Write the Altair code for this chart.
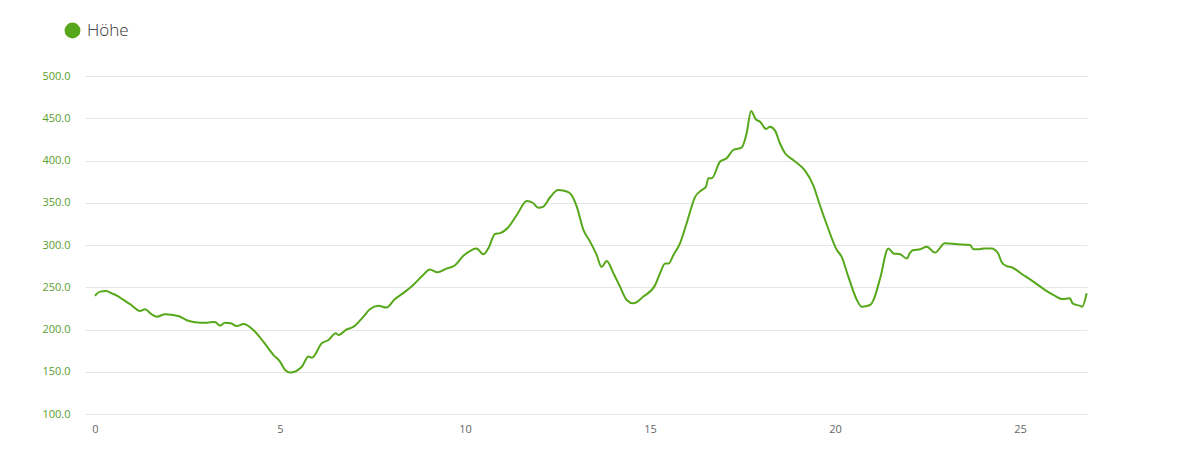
import altair as alt
import pandas as pd

km = [0.0, 0.14, 0.3, 0.45, 0.59, 0.77, 0.95, 1.22, 1.35, 1.53, 1.67, 1.89, 2.25, 2.48, 2.66,
      3.02, 3.24, 3.38, 3.51, 3.69, 3.83, 4.01, 4.28, 4.55, 4.82, 5.0, 5.14, 5.27, 5.59, 5.77,
      5.86, 6.13, 6.31, 6.51, 6.58, 6.8, 6.98, 7.25, 7.43, 7.66, 7.88, 8.1, 8.33, 8.6, 8.87,
      9.05, 9.25, 9.5, 9.73, 9.95, 10.18, 10.31, 10.5, 10.63, 10.81, 10.95, 11.17, 11.4, 11.67,
      11.83, 11.98, 12.12, 12.3, 12.52, 12.77, 12.88, 13.02, 13.2, 13.38, 13.56, 13.69, 13.83,
      14.01, 14.19, 14.37, 14.55, 14.82, 15.14, 15.27, 15.41, 15.5, 15.63, 15.81, 15.99, 16.22,
      16.4, 16.51, 16.58, 16.67, 16.89, 17.07, 17.25, 17.48, 17.61, 17.73, 17.86, 17.97, 18.14,
      18.24, 18.38, 18.51, 18.65, 18.87, 19.19, 19.41, 19.59, 19.78, 20.05, 20.18, 20.36, 20.59,
      20.72, 20.95, 21.04, 21.22, 21.44, 21.58, 21.76, 21.94, 22.03, 22.12, 22.3, 22.48, 22.7,
      22.97, 23.29, 23.65, 23.74, 23.92, 24.01, 24.23, 24.41, 24.5, 24.64, 24.77, 25.09, 25.36,
      25.68, 25.9, 26.13, 26.35, 26.42, 26.62, 26.68, 26.8]
hoehe = [240, 244.8, 245.5, 242.8, 240, 235, 230, 222, 224, 218, 215.2, 218, 216, 211, 209,
         208, 209, 204.6, 208, 207, 204, 206.5, 199.4, 185.6, 170, 162, 152, 149, 156, 168,
         166.6, 183.6, 187.6, 195.5, 193.5, 200, 203, 215, 224, 228, 226, 235.8, 243, 252.7, 264.5,
         271, 267.7, 272, 276, 287, 294, 296, 289, 296, 313, 314, 321, 335.5, 352,
         350, 344, 345.5, 356.5, 365, 363, 359, 345.5, 318, 304, 288, 274, 281,
         266.5, 250.7, 235, 231, 239, 252.7, 266.5, 278, 278, 288, 302, 325.7, 357,
         365, 369, 379, 379, 398.6, 402.6, 412.4, 415.6, 432, 458.6, 448.7, 446, 437.3,
         440, 435.3, 420.4, 408.5, 400.6, 388, 371, 347.3, 323.7, 294, 286, 262.5, 235,
         227, 229, 235, 260.6, 296, 290, 289, 284, 291, 294, 295, 298, 291,
         302, 301, 300, 295, 295, 296, 296, 290, 280, 275, 273.7, 264.5, 256.6,
         246.7, 241, 236, 237, 231, 228, 227, 243]
series = ["Höhe"] * len(km)

y_ticks = [100, 150, 200, 250, 300, 350, 400, 450, 500]
x_ticks = [0, 5, 10, 15, 20, 25]

GREEN = "#56a81a"
LABEL_GREEN = "#5a9e2a"

df = pd.DataFrame({"km": km, "hoehe": hoehe, "serie": series})

chart = alt.Chart(df).mark_line(strokeWidth=2, interpolate="monotone").encode(
    x=alt.X("km:Q", scale=alt.Scale(domain=[-0.27, 26.81], nice=False, zero=False),
            axis=alt.Axis(values=x_ticks, title=None, grid=False, domain=False, ticks=False,
                          labelColor="#666666", labelFontSize=11, labelFont="Open Sans",
                          labelPadding=9, format="d")),
    y=alt.Y("hoehe:Q", scale=alt.Scale(domain=[100, 500], nice=False, zero=False),
            axis=alt.Axis(values=y_ticks, title=None, grid=True, gridColor="#e6e6e6",
                          domain=False, ticks=False, format=".1f", labelColor=LABEL_GREEN,
                          labelFontSize=11, labelFont="Open Sans", labelPadding=15)),
    color=alt.Color("serie:N", scale=alt.Scale(range=[GREEN]),
                    legend=alt.Legend(title=None, orient="none", legendX=-21, legendY=-54,
                                      symbolType="circle", symbolSize=250, symbolFillColor=GREEN,
                                      symbolStrokeWidth=0, labelFontSize=17, labelFont="Open Sans",
                                      labelFontWeight=300,
                                      labelColor="#333333", labelOffset=6)),
).properties(
    width=1002, height=338,
    autosize=alt.AutoSizeParams(type="none"),
    padding={"left": 77, "top": 68, "right": 10, "bottom": 30},
).configure_view(stroke=None)

chart.save("out.html", embed_options={"renderer": "svg", "actions": False})
